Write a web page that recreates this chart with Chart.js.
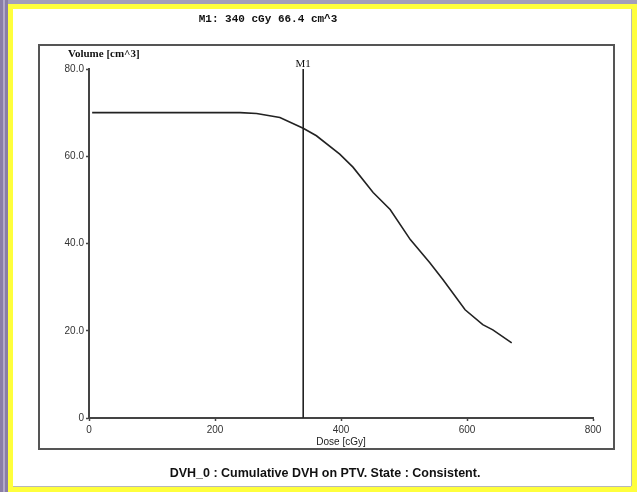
<!DOCTYPE html>
<html>
<head>
<meta charset="utf-8">
<script src="https://cdn.jsdelivr.net/npm/chart.js@4.4.1/dist/chart.umd.min.js"></script>
<style>
  html, body { margin: 0; padding: 0; background: #ffffff; }
  #wrap { width: 637px; height: 492px; position: relative; }
</style>
</head>
<body>
<div id="wrap"><canvas id="c" width="637" height="492"></canvas></div>
<script>
// ---- data ----
const doses   = [5, 240, 266, 303, 340, 361, 398, 419, 451, 478, 510, 541, 562, 597, 625, 641, 671];
const volumes = [70.0, 70.0, 69.8, 68.9, 66.4, 64.7, 60.5, 57.5, 51.7, 47.8, 40.9, 35.6, 31.7, 24.8, 21.4, 20.2, 17.2];
const markerName = 'M1';
const markerDose = 340;
const markerVolume = 66.4;
const markerSpan = [0, 80];
const xTicks = [0, 200, 400, 600, 800];
const yTicks = [0, 20, 40, 60, 80];
const titleText = 'M1: 340 cGy 66.4 cm^3';
const captionText = 'DVH_0 : Cumulative DVH on PTV. State : Consistent.';
const yAxisLabel = 'Volume [cm^3]';
const xAxisLabel = 'Dose [cGy]';

const curve = doses.map((d, i) => ({ x: d, y: volumes[i] }));
const markerLine = markerSpan.map(v => ({ x: markerDose, y: v }));

const framePlugin = {
  id: 'frame',
  beforeDraw(chart) {
    const ctx = chart.ctx;
    const W = chart.width, H = chart.height;
    ctx.save();
    // yellow window border
    ctx.fillStyle = '#ffff3c';
    ctx.fillRect(0, 0, W, H);
    ctx.fillStyle = '#ffffff';
    ctx.fillRect(13, 9, W - 13 - 6, H - 9 - 6);
    // grey/purple top band
    ctx.fillStyle = '#a49fb9';
    ctx.fillRect(0, 0, W, 4);
    // purple left band
    ctx.fillStyle = '#8a7ea6';
    ctx.fillRect(0, 0, 8, H);
    ctx.fillStyle = '#b2a9c8';
    ctx.fillRect(3, 0, 2, H);
    // thin grey inner lines
    ctx.fillStyle = '#b8b8b8';
    ctx.fillRect(W - 6, 9, 1, H - 15);
    ctx.fillRect(13, H - 6, W - 19, 1);
    ctx.restore();
  },
  afterDraw(chart) {
    const ctx = chart.ctx;
    const xs = chart.scales.x, ys = chart.scales.y;
    ctx.save();
    // inner box
    ctx.strokeStyle = '#555555';
    ctx.lineWidth = 2;
    ctx.strokeRect(39, 45, 575, 404);
    // title
    ctx.fillStyle = '#111111';
    ctx.textAlign = 'center';
    ctx.textBaseline = 'middle';
    ctx.font = 'bold 11px "Liberation Mono", "DejaVu Sans Mono", monospace';
    ctx.fillText(titleText, 268, 19);
    // y axis label (horizontal, above axis)
    ctx.font = 'bold 11px "Liberation Serif", "DejaVu Serif", serif';
    ctx.textAlign = 'left';
    ctx.fillText(yAxisLabel, 68, 54);
    // marker label
    ctx.font = '11px "Liberation Serif", "DejaVu Serif", serif';
    ctx.textAlign = 'center';
    ctx.textBaseline = 'bottom';
    ctx.fillText(markerName, xs.getPixelForValue(markerDose), ys.getPixelForValue(markerSpan[1]) + 1);
    // x axis label
    ctx.font = '10px "Liberation Sans", Arial, sans-serif';
    ctx.textBaseline = 'middle';
    ctx.fillStyle = '#222222';
    ctx.fillText(xAxisLabel, xs.getPixelForValue(400), 442);
    // caption
    ctx.font = 'bold 12.5px "Liberation Sans", Arial, sans-serif';
    ctx.fillStyle = '#111111';
    ctx.fillText(captionText, 325, 474);
    ctx.restore();
  }
};

new Chart(document.getElementById('c'), {
  type: 'scatter',
  data: {
    datasets: [
      {
        label: 'DVH',
        data: curve,
        showLine: true,
        borderColor: '#222222',
        borderWidth: 1.6,
        pointRadius: 0,
        tension: 0,
        fill: false
      },
      {
        label: markerName,
        data: markerLine,
        showLine: true,
        borderColor: '#222222',
        borderWidth: 1.6,
        pointRadius: 0,
        fill: false
      }
    ]
  },
  options: {
    responsive: false,
    animation: false,
    devicePixelRatio: 1,
    layout: { padding: { left: 0, right: 44, top: 69, bottom: 0 } },
    plugins: {
      legend: { display: false },
      tooltip: { enabled: false },
      title: { display: false }
    },
    scales: {
      x: {
        type: 'linear',
        min: 0, max: 800,
        afterBuildTicks: s => { s.ticks = xTicks.map(v => ({ value: v })); },
        afterFit: s => { s.height = 74; },
        border: { display: true, color: '#444444', width: 2 },
        grid: { drawOnChartArea: false, drawTicks: true, tickLength: 3, color: '#444444', tickWidth: 1.5 },
        ticks: {
          color: '#333333',
          padding: 3,
          font: { family: '"Liberation Sans", Arial, sans-serif', size: 10 },
          maxRotation: 0,
          callback: v => String(v)
        }
      },
      y: {
        type: 'linear',
        min: 0, max: 80,
        afterBuildTicks: s => { s.ticks = yTicks.map(v => ({ value: v })); },
        afterFit: s => { s.width = 89; },
        border: { display: true, color: '#444444', width: 2 },
        grid: { drawOnChartArea: false, drawTicks: true, tickLength: 3, color: '#444444', tickWidth: 1.5 },
        ticks: {
          color: '#333333',
          padding: 2,
          font: { family: '"Liberation Sans", Arial, sans-serif', size: 10 },
          callback: v => v === 0 ? '0' : v.toFixed(1)
        }
      }
    }
  },
  plugins: [framePlugin]
});
</script>
</body>
</html>
